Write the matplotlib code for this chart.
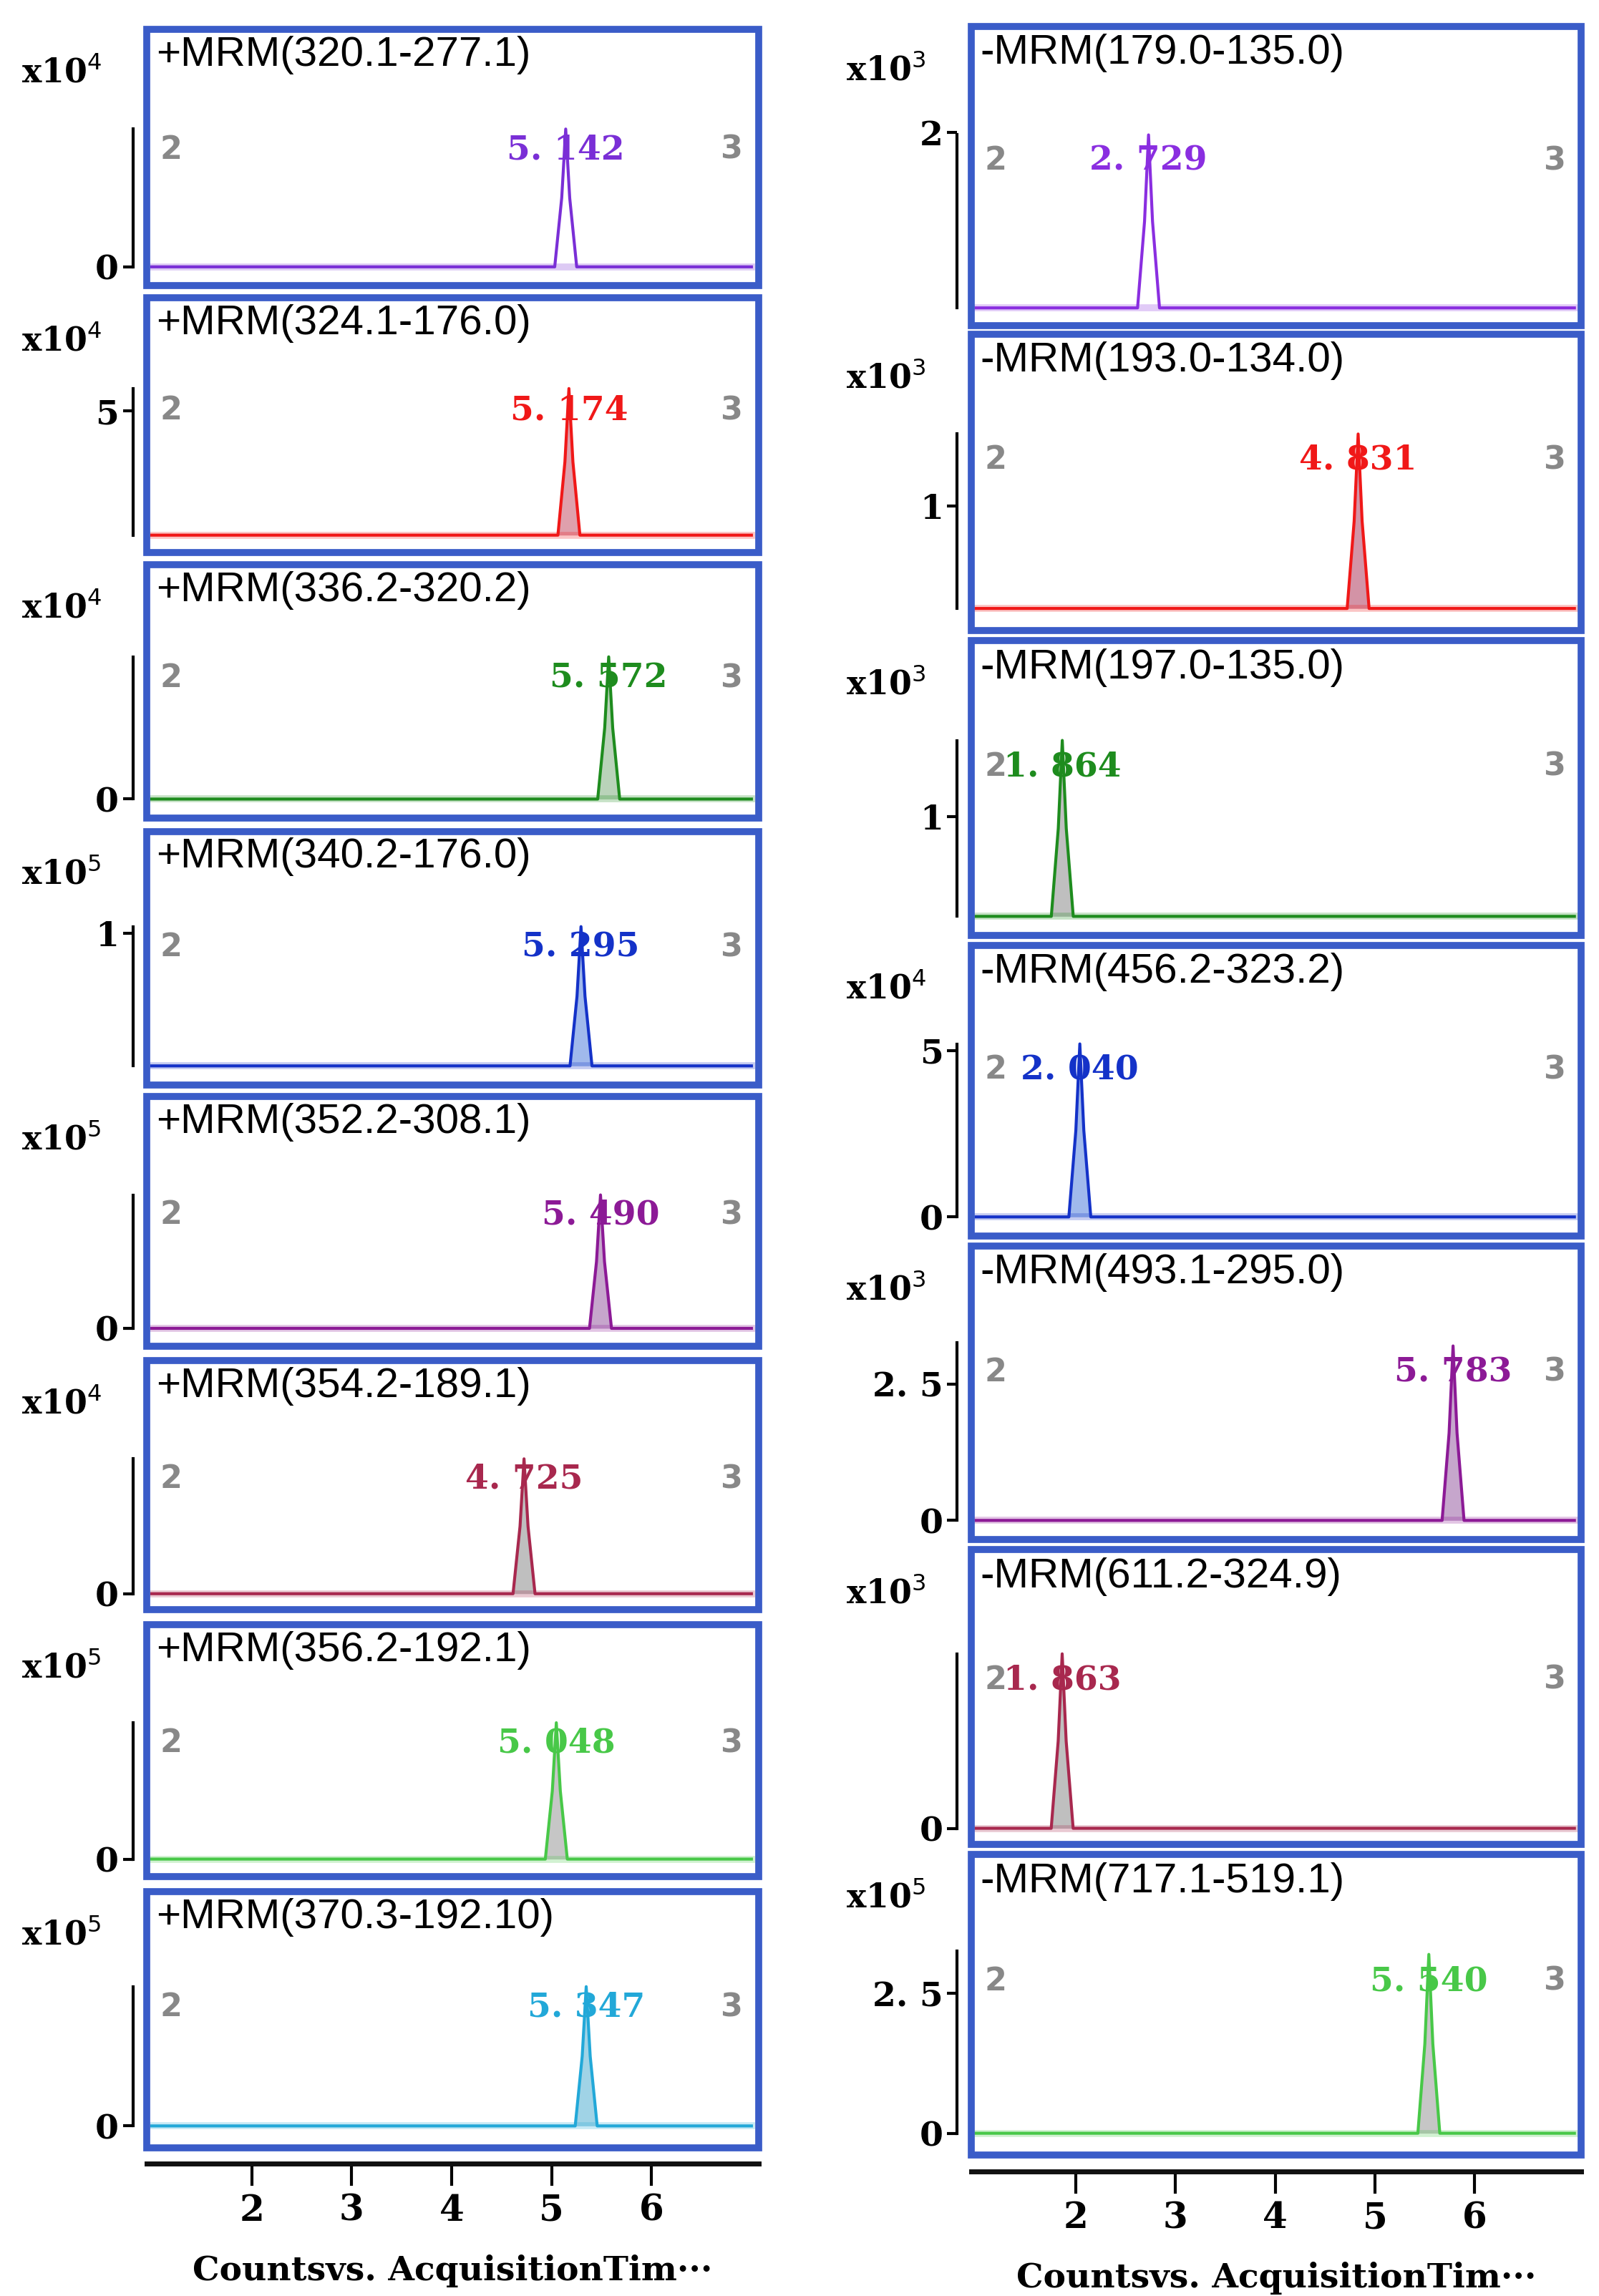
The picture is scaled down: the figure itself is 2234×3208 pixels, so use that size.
import matplotlib
matplotlib.use("Agg")
import matplotlib.pyplot as plt
from matplotlib.patches import Rectangle

W, H = 1090.0, 1566.0  # layout reference units

# ---------------- data ----------------
left_titles = ["+MRM(320.1-277.1)", "+MRM(324.1-176.0)", "+MRM(336.2-320.2)", "+MRM(340.2-176.0)",
               "+MRM(352.2-308.1)", "+MRM(354.2-189.1)", "+MRM(356.2-192.1)", "+MRM(370.3-192.10)"]
left_rt = [5.142, 5.174, 5.572, 5.295, 5.490, 4.725, 5.048, 5.347]
left_labels = ["5. 142", "5. 174", "5. 572", "5. 295", "5. 490", "4. 725", "5. 048", "5. 347"]
left_height = [3.5, 5.9, 3.5, 1.05, 4.0, 4.0, 4.0, 4.0]
left_exp = [4, 4, 4, 5, 5, 4, 5, 5]
left_ticks = [[0], [5], [0], [1], [0], [0], [0], [0]]
left_colors = ["#7a2fd6", "#f01818", "#1e8c1e", "#1432c8", "#8c1a96", "#a8284e", "#48c848", "#22a8d8"]
left_fill = [None, "#d88898", "#a8c8a8", "#88a8e8", "#b890c0", "#b0b0b0", "#b8b8b8", "#88c8e0"]

right_titles = ["-MRM(179.0-135.0)", "-MRM(193.0-134.0)", "-MRM(197.0-135.0)", "-MRM(456.2-323.2)",
                "-MRM(493.1-295.0)", "-MRM(611.2-324.9)", "-MRM(717.1-519.1)"]
right_rt = [2.729, 4.831, 1.864, 2.040, 5.783, 1.863, 5.540]
right_labels = ["2. 729", "4. 831", "1. 864", "2. 040", "5. 783", "1. 863", "5. 540"]
right_height = [1.97, 1.7, 1.76, 5.2, 3.2, 4.0, 3.2]
right_exp = [3, 3, 3, 4, 3, 3, 5]
right_ticks = [[2], [1], [1], [5, 0], [2.5, 0], [0], [2.5, 0]]
right_tick_labels = [["2"], ["1"], ["1"], ["5", "0"], ["2. 5", "0"], ["0"], ["2. 5", "0"]]
right_colors = ["#8a2ee0", "#f01818", "#1e8c1e", "#1432c8", "#8c1a96", "#a8284e", "#48c848"]
right_fill = [None, "#c87890", "#b0b0b0", "#88a8e8", "#b890c0", "#b0b0b0", "#b8b8b8"]

x_ticks = [2, 3, 4, 5, 6]
x_label = "Countsvs. AcquisitionTim\u00b7\u00b7\u00b7"

# ---------------- layout ----------------
left_box = [(20, 195), (203, 377), (385, 558), (567, 740), (748, 918), (928, 1098), (1108, 1280), (1290, 1465)]
left_base = [182, 365, 545, 727, 906, 1087, 1268, 1450]
left_apex = [88, 265, 448, 632, 815, 995, 1175, 1355]
right_box = [(18, 222), (228, 430), (437, 638), (645, 843), (850, 1050), (1057, 1258), (1265, 1470)]
right_base = [210, 415, 625, 830, 1037, 1247, 1455]
right_apex = [92, 296, 505, 712, 918, 1128, 1333]
cols = [(100, 517), (662, 1078)]

fig = plt.figure(figsize=(22.34, 32.08), dpi=100)
serif = "DejaVu Serif"


def panel(col, box, base, apex, title, rt, lab, P, exp, ticks, ticklabels, color, fill, last):
    x0, x1 = cols[col]
    top, bot = box
    ax = fig.add_axes([x0 / W, 1 - bot / H, (x1 - x0) / W, (bot - top) / H])
    ppu = (base - apex) / P
    ax.set_ylim(-(bot - base) / ppu, (base - top) / ppu)
    ax.set_xlim(0.95, 7.07)
    ax.add_patch(Rectangle((0, 0), 1, 1, transform=ax.transAxes, fill=False,
                           edgecolor="#3a5cc8", lw=7, clip_on=False, zorder=5))
    for s in ["top", "right"]:
        ax.spines[s].set_visible(False)
    ax.spines["left"].set_position(("outward", 14))
    ax.spines["left"].set_linewidth(3)
    ax.spines["left"].set_bounds(0, P if ticks != [2.5, 0] else P * 1.02)
    ax.set_yticks(ticks)
    ax.set_yticklabels(ticklabels, fontsize=34, fontweight="bold", family=serif)
    ax.tick_params(axis="y", length=10, width=3, pad=4)
    if last:
        ax.spines["bottom"].set_position(("outward", 16))
        ax.spines["bottom"].set_linewidth(5)
        ax.spines["bottom"].set_color("#111111")
        ax.set_xticks(x_ticks)
        ax.set_xticklabels([str(t) for t in x_ticks], fontsize=36, fontweight="bold", family=serif)
        ax.tick_params(axis="x", length=22, width=3, direction="out", pad=8)
        ax.set_xlabel(x_label, fontsize=34, fontweight="bold", family=serif, labelpad=26)
    else:
        ax.spines["bottom"].set_visible(False)
        ax.set_xticks([])
    xs = [1.0, rt - 0.11, rt - 0.04, rt, rt + 0.04, rt + 0.11, 7.0]
    ys = [0, 0, 0.5 * P, P, 0.5 * P, 0, 0]
    if fill:
        ax.fill_between(xs, ys, 0, color=fill, alpha=0.8, lw=0)
    ax.plot(xs, ys, color=color, lw=3)
    ax.plot([1.0, 7.0], [0, 0], color=color, lw=7, alpha=0.25)
    ax.text(rt, P * 0.85, lab, color=color, fontsize=34, fontweight="bold",
            ha="center", va="center", family=serif)
    ax.text(0.04, P * 0.85, "2", transform=ax.get_yaxis_transform(), color="#888888",
            fontsize=32, fontweight="bold", ha="center", va="center")
    ax.text(0.955, P * 0.85, "3", transform=ax.get_yaxis_transform(), color="#888888",
            fontsize=32, fontweight="bold", ha="center", va="center")
    ax.text(0.015, 0.975, title, transform=ax.transAxes, fontsize=42, ha="left", va="top",
            family="Liberation Sans")
    fig.text((x0 - 58) / W, 1 - (top + 30) / H, "x10$^{%d}$" % exp, fontsize=33,
             fontweight="bold", family=serif, ha="center", va="center")


for i in range(8):
    panel(0, left_box[i], left_base[i], left_apex[i], left_titles[i], left_rt[i], left_labels[i],
          left_height[i], left_exp[i], left_ticks[i], [("%g" % t) for t in left_ticks[i]],
          left_colors[i], left_fill[i], i == 7)
for i in range(7):
    panel(1, right_box[i], right_base[i], right_apex[i], right_titles[i], right_rt[i], right_labels[i],
          right_height[i], right_exp[i], right_ticks[i], right_tick_labels[i],
          right_colors[i], right_fill[i], i == 6)

fig.savefig("out.png", dpi=100)
